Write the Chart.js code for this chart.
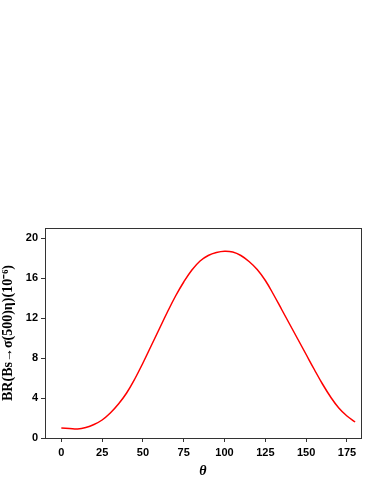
<!DOCTYPE html>
<html>
<head>
<meta charset="utf-8">
<script src="https://cdn.jsdelivr.net/npm/chart.js@4"></script>
<style>
  html, body { margin: 0; padding: 0; background: #fff; }
  #wrap { width: 374px; height: 484px; }
</style>
</head>
<body>
<div id="wrap"><canvas id="brChart" width="374" height="484"></canvas></div>
<script>
// theta (deg) and branching ratio (10^-6)
var thetaValues = [0, 5, 10, 15, 20, 25, 30, 35, 40, 45, 50, 55, 60, 65, 70, 75, 80, 85, 90,
    95, 100, 105, 110, 115, 120, 125, 130, 135, 140, 145, 150, 155, 160, 165, 170, 175, 180];
var brValues = [1.0, 0.95, 0.9, 1.05, 1.35, 1.8, 2.5, 3.4, 4.5, 5.9, 7.5, 9.2, 10.9, 12.6, 14.2, 15.6, 16.8, 17.7, 18.25,
    18.55, 18.68, 18.6, 18.25, 17.65, 16.85, 15.75, 14.35, 12.85, 11.35, 9.85, 8.35, 6.85, 5.4, 4.1, 3.0, 2.2, 1.6];
var xTicks = [0, 25, 50, 75, 100, 125, 150, 175];
var yTicks = [0, 4, 8, 12, 16, 20];

var points = thetaValues.map(function(t, i) { return { x: t, y: brValues[i] }; });

var frame = {
    id: 'frame',
    afterDraw: function(chart) {
        var a = chart.chartArea, c = chart.ctx;
        c.save();
        c.strokeStyle = '#333';
        c.lineWidth = 1;
        c.strokeRect(a.left + 0.5, a.top + 0.5, a.right - a.left, a.bottom - a.top);
        c.restore();
    }
};

var tickFont = { family: 'Liberation Sans, Arial, sans-serif', size: 11, weight: 'bold' };

new Chart(document.getElementById('brChart'), {
    type: 'line',
    data: {
        datasets: [{
            data: points,
            borderColor: '#ff0000',
            borderWidth: 1.5,
            pointRadius: 0,
            fill: false,
            tension: 0.4
        }]
    },
    options: {
        responsive: false,
        animation: false,
        layout: { padding: { top: 228, right: 13, left: 0, bottom: 0 } },
        plugins: { legend: { display: false }, tooltip: { enabled: false } },
        scales: {
            x: {
                type: 'linear',
                min: -10,
                max: 183.6,
                afterBuildTicks: function(s) { s.ticks = xTicks.map(function(v) { return { value: v }; }); },
                afterFit: function(s) { s.height = 46; },
                grid: { drawOnChartArea: false, tickLength: 4, color: '#333' },
                border: { color: '#333' },
                ticks: { color: '#000', font: tickFont, padding: 4, maxRotation: 0 },
                title: {
                    display: true, text: 'θ', color: '#000', padding: { top: 10 },
                    font: { family: 'Liberation Serif, Times New Roman, serif', size: 14, style: 'italic', weight: 'bold' }
                }
            },
            y: {
                min: 0,
                max: 21,
                afterBuildTicks: function(s) { s.ticks = yTicks.map(function(v) { return { value: v }; }); },
                afterFit: function(s) { s.width = 45; },
                grid: { drawOnChartArea: false, tickLength: 4, color: '#333' },
                border: { color: '#333' },
                ticks: { color: '#000', font: tickFont, padding: 3 },
                title: {
                    display: true, text: 'BR(Bs→σ(500)η)(10⁻⁶)', color: '#000', padding: 0,
                    font: { family: 'Liberation Serif, Times New Roman, serif', size: 14, weight: 'bold' }
                }
            }
        }
    },
    plugins: [frame]
});
</script>
</body>
</html>
